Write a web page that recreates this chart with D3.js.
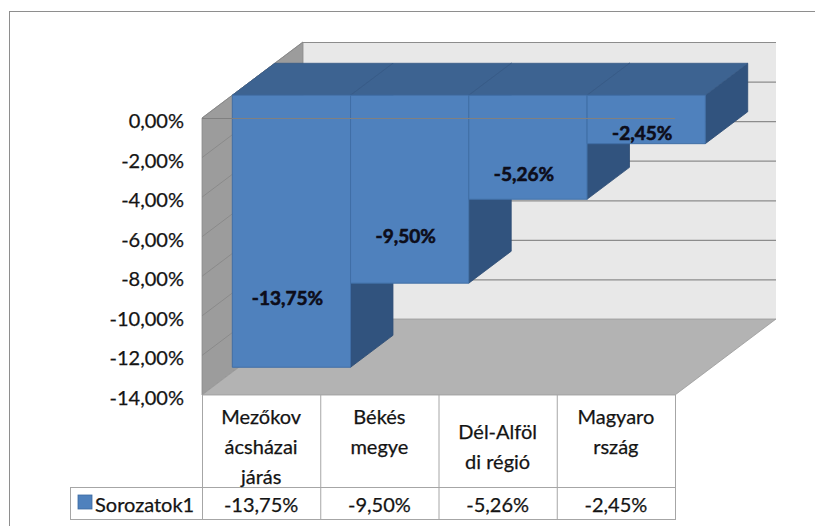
<!DOCTYPE html>
<html>
<head>
<meta charset="utf-8">
<script src="https://cdn.jsdelivr.net/npm/d3@7/dist/d3.min.js"></script>
<style>
  html, body { margin: 0; padding: 0; background: #fff; }
  svg { display: block; }
  text { font-family: Lato, "Open Sans", sans-serif; }
</style>
</head>
<body>
<svg id="chart" width="815" height="526"></svg>
<script>
// ---- data ----
const categories = ["Mezőkovácsházai járás", "Békés megye", "Dél-Alföldi régió", "Magyarország"];
const categoryLines = [["Mezőkov", "ácsházai", "járás"], ["Békés", "megye", ""], ["Dél-Alföl", "di régió"], ["Magyaro", "rszág", ""]];
const seriesName = "Sorozatok1";
const values = [-13.75, -9.50, -5.26, -2.45];
const tickValues = [0, -2, -4, -6, -8, -10, -12, -14];
const tickLabels = ["0,00%", "-2,00%", "-4,00%", "-6,00%", "-8,00%", "-10,00%", "-12,00%", "-14,00%"];

// ---- layout ----
const svg = d3.select("#chart");
const frontLeft = 202, frontRight = 675, frontTop = 118, frontBottom = 395;
const depthDX = 101, depthDY = -76;
const barDepth0 = 0.30, barDepth1 = 0.72;
const textColor = "#141414";

const y = d3.scaleLinear().domain([-14, 0]).range([frontBottom, frontTop]);
const x = d3.scaleBand().domain(categories).range([frontLeft, frontRight]).padding(0);
const P = (px, v, d) => [px + d * depthDX, y(v) + d * depthDY];
const poly = pts => "M" + pts.map(p => p.join(",")).join("L") + "Z";
const fmt = v => d3.format(".2f")(v).replace(".", ",").replace("−", "-") + "%";

// outer border
svg.append("rect").attr("x", 9.5).attr("y", 11.5).attr("width", 900).attr("height", 600)
  .attr("fill", "none").attr("stroke", "#8e8e8e");

const yMin = -14, yMax = 0;
// back wall
svg.append("path")
  .attr("d", poly([P(frontLeft, yMax, 1), P(frontRight, yMax, 1), P(frontRight, yMin, 1), P(frontLeft, yMin, 1)]))
  .attr("fill", "#e8e8e8");
// side wall
svg.append("path")
  .attr("d", poly([P(frontLeft, yMax, 0), P(frontLeft, yMax, 1), P(frontLeft, yMin, 1), P(frontLeft, yMin, 0)]))
  .attr("fill", "#9c9c9c").attr("stroke", "#8a8a8a").attr("stroke-width", 0.8);
// floor
svg.append("path")
  .attr("d", poly([P(frontLeft, yMin, 0), P(frontLeft, yMin, 1), P(frontRight, yMin, 1), P(frontRight, yMin, 0)]))
  .attr("fill", "#b3b3b3").attr("stroke", "#999").attr("stroke-width", 0.8);

// gridlines: back wall and side wall
tickValues.forEach(t => {
  if (t !== yMin) {
    const a = P(frontLeft, t, 1), b = P(frontRight, t, 1);
    svg.append("line").attr("x1", a[0]).attr("y1", a[1] + 0.5).attr("x2", b[0]).attr("y2", b[1] + 0.5)
      .attr("stroke", "#8c8c8c").attr("stroke-width", 1.2);
    const c = P(frontLeft, t, 0);
    svg.append("line").attr("x1", c[0]).attr("y1", c[1]).attr("x2", a[0]).attr("y2", a[1])
      .attr("stroke", "#858585").attr("stroke-width", 0.8);
  }
});

// bars
const bw = x.bandwidth();
categories.forEach((c, i) => {
  const v = values[i];
  const x0 = x(c), x1 = x(c) + bw;
  const g = svg.append("g");
  g.append("path")
    .attr("d", poly([P(x1, 0, barDepth0), P(x1, 0, barDepth1), P(x1, v, barDepth1), P(x1, v, barDepth0)]))
    .attr("fill", "#31537e").attr("stroke", "#2b4a72").attr("stroke-width", 0.8);
  g.append("path")
    .attr("d", poly([P(x0, 0, barDepth0), P(x1, 0, barDepth0), P(x1, 0, barDepth1), P(x0, 0, barDepth1)]))
    .attr("fill", "#3d6391").attr("stroke", "#375a86").attr("stroke-width", 0.8);
  g.append("path")
    .attr("d", poly([P(x0, 0, barDepth0), P(x1, 0, barDepth0), P(x1, v, barDepth0), P(x0, v, barDepth0)]))
    .attr("fill", "#4f81bd").attr("stroke", "#416fa6").attr("stroke-width", 1);
});

// front zero line
svg.append("line").attr("x1", frontLeft).attr("y1", y(0) + 0.5).attr("x2", frontRight).attr("y2", y(0) + 0.5)
  .attr("stroke", "#808080").attr("stroke-width", 1.1);

// data labels
categories.forEach((c, i) => {
  const v = values[i];
  const p = P(x(c) + bw / 2, v * 0.74, barDepth0);
  svg.append("text").attr("x", p[0] - 4).attr("y", p[1] + 1)
    .attr("text-anchor", "middle").attr("dominant-baseline", "central")
    .attr("font-size", 19).attr("font-weight", 700).attr("fill", "#0d0d1a")
    .attr("stroke", "#0d0d1a").attr("stroke-width", 0.6)
    .text(fmt(v));
});

const addText = (sel) => sel.attr("font-size", 20).attr("fill", textColor)
  .attr("stroke", textColor).attr("stroke-width", 0.25).attr("dominant-baseline", "central");

// y axis labels
tickValues.forEach((t, i) => {
  addText(svg.append("text").attr("x", 184).attr("y", y(t) + 2).attr("text-anchor", "end"))
    .text(tickLabels[i]);
});

// data table
const tblTop = frontBottom, rowSplit = 487, tblBottom = 519, legendLeft = 70;
const lineColor = "#a6a6a6";
categories.forEach((c) => {
  svg.append("line").attr("x1", x(c) + 0.5).attr("y1", tblTop).attr("x2", x(c) + 0.5).attr("y2", tblBottom)
    .attr("stroke", lineColor);
});
svg.append("line").attr("x1", frontRight + 0.5).attr("y1", tblTop).attr("x2", frontRight + 0.5).attr("y2", tblBottom)
  .attr("stroke", lineColor);
svg.append("line").attr("x1", legendLeft + 0.5).attr("y1", rowSplit).attr("x2", legendLeft + 0.5).attr("y2", tblBottom)
  .attr("stroke", lineColor);
svg.append("line").attr("x1", legendLeft).attr("y1", rowSplit + 0.5).attr("x2", frontRight + 1).attr("y2", rowSplit + 0.5)
  .attr("stroke", lineColor);
svg.append("line").attr("x1", legendLeft).attr("y1", tblBottom + 0.5).attr("x2", frontRight + 1).attr("y2", tblBottom + 0.5)
  .attr("stroke", lineColor);

const lh = 30, headerCenter = 446;
categories.forEach((c, i) => {
  const lines = categoryLines[i];
  const start = headerCenter - (lines.length - 1) * lh / 2;
  lines.forEach((ln, j) => {
    addText(svg.append("text").attr("x", x(c) + bw / 2).attr("y", start + j * lh).attr("text-anchor", "middle"))
      .text(ln);
  });
  addText(svg.append("text").attr("x", x(c) + bw / 2).attr("y", (rowSplit + tblBottom) / 2 + 1).attr("text-anchor", "middle"))
    .text(fmt(values[i]));
});
svg.append("rect").attr("x", 78).attr("y", 495).attr("width", 14).attr("height", 14)
  .attr("fill", "#4f81bd").attr("stroke", "#3c6aa0").attr("stroke-width", 0.8);
addText(svg.append("text").attr("x", 95).attr("y", (rowSplit + tblBottom) / 2 + 1))
  .text(seriesName);
</script>
</body>
</html>
